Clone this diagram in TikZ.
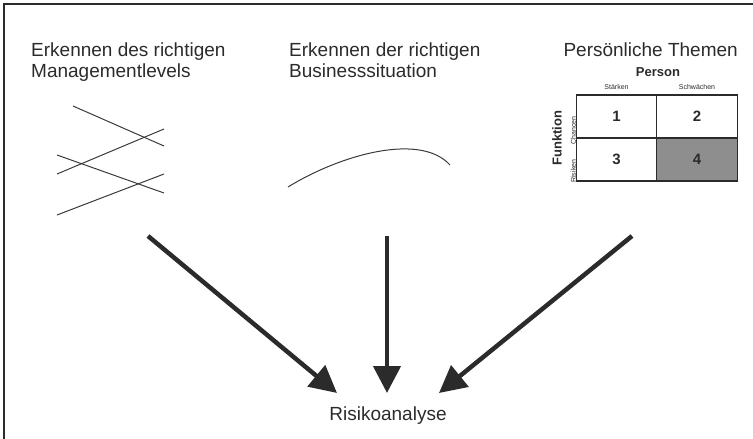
\documentclass[tikz,border=0pt]{standalone}
\usepackage{fontspec}
\setmainfont{Liberation Sans}
\usetikzlibrary{positioning,arrows.meta}
\definecolor{rkink}{HTML}{2B2B2B}
\definecolor{rkline}{HTML}{3A3A3A}
\definecolor{rkgrey}{HTML}{8E8E8E}
\tikzset{
  head/.style={font=\fontsize{19}{21}\selectfont,align=left,inner sep=0pt,text=rkink},
  cell/.style={draw=rkink,line width=1.4pt,minimum width=80.5pt,minimum height=43pt,inner sep=0pt,outer sep=0pt,font=\fontsize{15}{15}\selectfont\bfseries,text=rkink},
  tiny/.style={font=\fontsize{7}{7}\selectfont,inner sep=0pt,text=rkink},
  axis/.style={font=\fontsize{13}{13}\selectfont\bfseries,inner sep=0pt,text=rkink},
  sketch/.style={draw=rkline,line width=1pt},
  bigarrow/.style={-{Triangle[length=27pt,width=27pt]},line width=4.5pt,draw=rkink},
}
\begin{document}
\begin{tikzpicture}[x=1pt,y=-1pt]
  \useasboundingbox (0,0) rectangle (753,439);
  \draw[line width=1.5pt,rkink] (4,439) -- (4,4) -- (753,4);
  % headings
  \node[head,anchor=north west] (levels) at (31,43) {Erkennen des richtigen\\Managementlevels};
  \node[head,anchor=north west] (situation) at (289,43) {Erkennen der richtigen\\Businesssituation};
  \node[head,anchor=north east] (themes) at (738,43) {Persönliche Themen};
  % crossing levels
  \draw[sketch] (73,106) -- (164,146);
  \draw[sketch] (57,174) -- (164,129);
  \draw[sketch] (57,155) -- (164,193);
  \draw[sketch] (57,215) -- (164,174);
  % situation curve
  \draw[sketch] (288,187) .. controls (340,155) and (420,132) .. (450,165);
  % matrix
  \node[cell] (c1) at (616.5,116.5) {1};
  \node[cell,right=0pt of c1] (c2) {2};
  \node[cell,below=0pt of c1] (c3) {3};
  \node[cell,fill=rkgrey,right=0pt of c3] (c4) {4};
  \node[axis] (person) at (658,72) {Person};
  \node[tiny,above=5pt of c1] (strong) {Stärken};
  \node[tiny,above=5pt of c2] (weak) {Schwächen};
  \node[tiny,rotate=90,left=3pt of c1] (chance) {Chancen};
  \node[tiny,rotate=90,left=3pt of c3] (risk) {Risiken};
  \node[axis,rotate=90] (function) at (557,138) {Funktion};
  % result
  \node[head,anchor=base] (analysis) at (388,420) {Risikoanalyse};
  \coordinate (levels-out) at (148,236);
  \coordinate (situation-out) at (387,236);
  \coordinate (themes-out) at (632,236);
  \coordinate (analysis-l) at (337,393);
  \coordinate (analysis-m) at (387,393);
  \coordinate (analysis-r) at (439,393);
  \draw[bigarrow] (levels-out) -- (analysis-l);
  \draw[bigarrow] (situation-out) -- (analysis-m);
  \draw[bigarrow] (themes-out) -- (analysis-r);
\end{tikzpicture}
\end{document}
